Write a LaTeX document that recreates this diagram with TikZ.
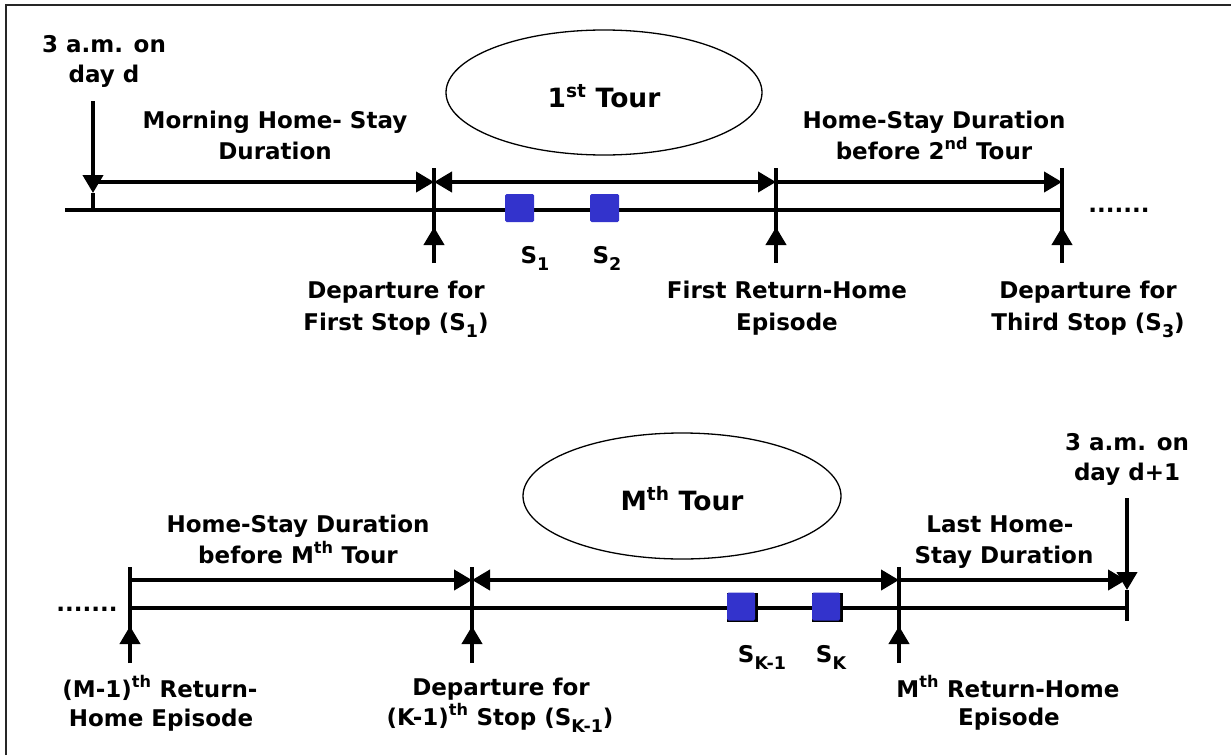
\documentclass[tikz,border=0pt]{standalone}
\usepackage{fontspec}
\setmainfont{DejaVu Sans}
\usetikzlibrary{arrows.meta,shapes.geometric}
\definecolor{stopblue}{RGB}{51,51,204}
% lowered index of a stop label
\newcommand\stopsub[1]{\raisebox{-7pt}{\fontsize{17.5}{17.5}\selectfont #1}}
\begin{document}
\begin{tikzpicture}[x=1pt,y=-1pt,
  >={Triangle[length=18pt,width=20pt]},
  heavy/.style={line width=4pt},
  lbl/.style={font=\bfseries\fontsize{23}{28}\selectfont, anchor=base, inner sep=0pt},
  stopbox/.style={fill=stopblue, rounded corners=1.5pt, minimum width=29pt, minimum height=28pt, inner sep=0pt},
  stopshadow/.style={fill=black, minimum width=31pt, minimum height=29pt, inner sep=0pt},
  tour/.style={draw, line width=1.3pt, ellipse, minimum width=316pt, minimum height=125pt,
    font=\bfseries\fontsize{26.5}{30}\selectfont, text height=29pt, text depth=0pt, inner sep=0pt}]
\useasboundingbox (0,0) rectangle (1231,755);

% frame
\draw[line width=2pt, black!85] (6,755) -- (6,5) -- (1231,5);

% ---------------- first time line ----------------
\coordinate (ax0) at (65,210);
\coordinate (axE) at (1062,210);
\draw[heavy] (ax0) -- (axE);

\foreach \n/\x in {a/434,b/776,c/1062}{
  \coordinate (\n-top) at (\x,168);
  \coordinate (\n-bot) at (\x,263);
  \coordinate (\n-tip) at (\x,227);
  \coordinate (\n-arr) at (\x,182);
}
\foreach \n in {a,b,c}{
  \draw[heavy] (\n-top) -- (\n-bot);
  \draw[heavy,->] (\n-bot) -- (\n-tip);
}

% start of day d
\coordinate (d0) at (93,101);
\coordinate (d0tip) at (93,193);
\coordinate (d0end) at (93,210);
\coordinate (d0arr) at (93,182);
\draw[heavy] (d0tip) -- (d0end);
\draw[heavy,->] (d0) -- (d0tip);

\draw[heavy,->] (d0arr) -- (a-arr);
\draw[heavy,<->] (a-arr) -- (b-arr);
\draw[heavy,->] (b-arr) -- (c-arr);

\node[stopbox] (s1) at (519.5,208) {};
\node[stopbox] (s2) at (604.5,208) {};
\node[lbl] (s1l) at (535,263) {S\stopsub{1}};
\node[lbl] (s2l) at (607,263) {S\stopsub{2}};

\node[lbl] (dots1) at (1119,212) {.......};

\node[tour] (tour1) at (604,92.5) {1\textsuperscript{st} Tour};

\node[lbl] (t1a) at (104,52) {3 a.m. on};
\node[lbl] (t1b) at (104,82) {day d};
\node[lbl] (m1a) at (275,128) {Morning Home- Stay};
\node[lbl] (m1b) at (275,159) {Duration};
\node[lbl] (h2a) at (934,128) {Home-Stay Duration};
\node[lbl] (h2b) at (934,159) {before 2\textsuperscript{nd} Tour};
\node[lbl] (dp1a) at (396,298) {Departure for};
\node[lbl] (dp1b) at (396,330) {First Stop (S\stopsub{1})};
\node[lbl] (rh1a) at (787,298) {First Return-Home};
\node[lbl] (rh1b) at (787,330) {Episode};
\node[lbl] (dp3a) at (1088,298) {Departure for};
\node[lbl] (dp3b) at (1088,330) {Third Stop (S\stopsub{3})};

% ---------------- last time line ----------------
\coordinate (bx0) at (130,608);
\coordinate (bxE) at (1127,608);
\draw[heavy] (bx0) -- (bxE);

\foreach \n/\x in {p/130,q/472,r/899}{
  \coordinate (\n-top) at (\x,567);
  \coordinate (\n-bot) at (\x,663);
  \coordinate (\n-tip) at (\x,626);
  \coordinate (\n-arr) at (\x,580);
}
\foreach \n in {p,q,r}{
  \draw[heavy] (\n-top) -- (\n-bot);
  \draw[heavy,->] (\n-bot) -- (\n-tip);
}

% end of day d: 3 a.m. on day d+1
\coordinate (e0) at (1127,498);
\coordinate (e0tip) at (1127,590);
\coordinate (e0end) at (1127,621);
\coordinate (e0arr) at (1126,580);
\draw[heavy] (e0tip) -- (e0end);

\draw[heavy,->] (p-arr) -- (q-arr);
\draw[heavy,<->] (q-arr) -- (r-arr);
\draw[heavy,->] (r-arr) -- (e0arr);
\draw[heavy,->] (e0) -- (e0tip);

\node[stopshadow] (sk1b) at (742.5,607.5) {};
\node[stopshadow] (skb) at (827.5,607.5) {};
\node[stopbox, minimum width=28pt] (sk1) at (741,606.5) {};
\node[stopbox, minimum width=28pt] (sk) at (826,606.5) {};
\node[lbl] (sk1l) at (762,662) {S\stopsub{K-1}};
\node[lbl] (skl) at (831,662) {S\stopsub{K}};

\node[lbl] (dots2) at (87,611) {.......};

\node[tour, minimum width=318pt, minimum height=126pt, text height=28pt] (tourM) at (682,496) {M\textsuperscript{th} Tour};

\node[lbl] (t2a) at (1127,450) {3 a.m. on};
\node[lbl] (t2b) at (1127,480) {day d+1};
\node[lbl] (hma) at (298,532) {Home-Stay Duration};
\node[lbl] (hmb) at (298,563) {before M\textsuperscript{th} Tour};
\node[lbl] (lha) at (1000,532) {Last Home-};
\node[lbl] (lhb) at (1004,563) {Stay Duration};
\node[lbl] (rma) at (160,697) {(M-1)\textsuperscript{th} Return-};
\node[lbl] (rmb) at (161,726) {Home Episode};
\node[lbl] (dka) at (501,695) {Departure for};
\node[lbl] (dkb) at (500,725) {(K-1)\textsuperscript{th} Stop (S\stopsub{K-1})};
\node[lbl] (rha) at (1008,697) {M\textsuperscript{th} Return-Home};
\node[lbl] (rhb) at (1009,725) {Episode};
\end{tikzpicture}
\end{document}
